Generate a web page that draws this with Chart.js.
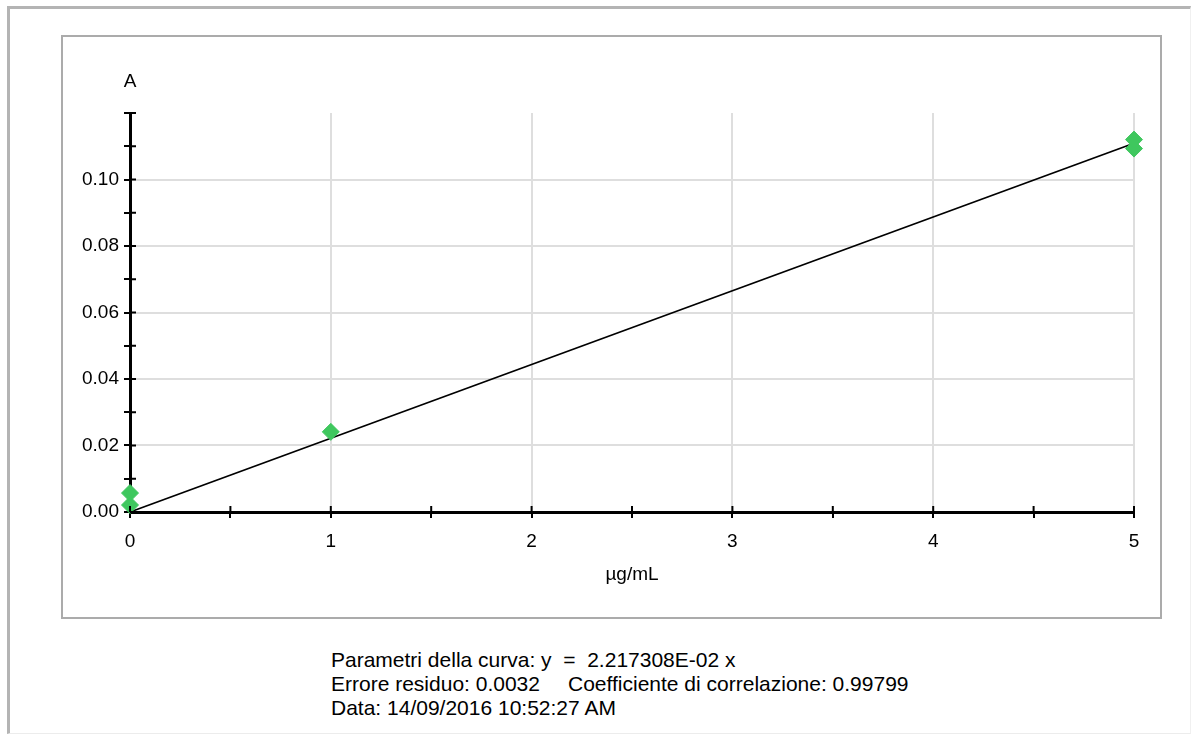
<!DOCTYPE html>
<html>
<head>
<meta charset="utf-8">
<script src="https://cdn.jsdelivr.net/npm/chart.js@4"></script>
<style>
  body { margin: 0; background: #fff; font-family: "Liberation Sans", Arial, sans-serif; }
  #outer { position: absolute; left: 7px; top: 6px; width: 1180px; height: 724px;
    border-top: 3px solid #b4b4b4; border-left: 3px solid #b4b4b4;
    border-right: 1px solid #f0f0f0; border-bottom: 1px solid #ececec; }
  #frame { position: absolute; left: 61px; top: 35px; width: 1097px; height: 580px;
    border: 2px solid #ababab; }
  #frame canvas { position: absolute; left: 0; top: 0; }
  #info { position: absolute; left: 331px; top: 648px; font-size: 21px; line-height: 24px; color: #000; }
  #info .gap { display: inline-block; width: 237px; }
</style>
</head>
<body>
<div id="outer"></div>
<div id="frame"><canvas id="myChart" width="1097" height="580"></canvas></div>
<div id="info">
  <div>Parametri della curva: y&nbsp; = &nbsp;2.217308E-02 x</div>
  <div><span class="gap">Errore residuo: 0.0032</span>Coefficiente di correlazione: 0.99799</div>
  <div>Data: 14/09/2016 10:52:27 AM</div>
</div>
<script>
// standard points (conc, absorbance)
var concStd = [0, 0, 1, 5, 5];
var absStd = [0.0021, 0.0057, 0.0241, 0.1093, 0.112];
// fitted line end points
var fitX = [0, 5];
var fitY = [0, 0.1109];
var xTickLabels = ["0", "1", "2", "3", "4", "5"];
var yTickLabels = ["0.00", "0.02", "0.04", "0.06", "0.08", "0.10"];
var xTitle = "µg/mL";
var yTitle = "A";

var tickFont = { family: "Liberation Sans", size: 19 };

function yLabel(v) {
	var s = v.toFixed(2);
	return yTickLabels.indexOf(s) >= 0 ? s : "";
}
function xLabel(v) {
	var s = String(v);
	return xTickLabels.indexOf(s) >= 0 ? s : "";
}

// tick marks that cross the axis + the "A" label on top of the y axis
const crossTicks = {
	id: "crossTicks",
	afterDraw: function (chart) {
		var ctx = chart.ctx;
		var xs = chart.scales.x, ys = chart.scales.y;
		var a = chart.chartArea;
		ctx.save();
		ctx.strokeStyle = "#000";
		ctx.lineWidth = 2;
		ctx.beginPath();
		ys.ticks.forEach(function (t) {
			var py = ys.getPixelForValue(t.value);
			ctx.moveTo(a.left, py);
			ctx.lineTo(a.left + 6, py);
		});
		xs.ticks.forEach(function (t) {
			var px = xs.getPixelForValue(t.value);
			ctx.moveTo(px, a.bottom);
			ctx.lineTo(px, a.bottom - 6);
		});
		ctx.stroke();
		ctx.fillStyle = "#000";
		ctx.font = "19px 'Liberation Sans'";
		ctx.textAlign = "center";
		ctx.textBaseline = "middle";
		ctx.fillText(yTitle, a.left, a.top - 31);
		ctx.restore();
	},
};

const ctx = document.getElementById("myChart").getContext("2d");
const myChart = new Chart(ctx, {
	type: "scatter",
	data: {
		datasets: [
			{
				label: "Standard",
				data: concStd.map(function (c, i) { return { x: c, y: absStd[i] }; }),
				backgroundColor: "#3fc75e",
				borderColor: "#3fc75e",
				borderWidth: 1,
				pointStyle: "rectRot",
				pointRadius: 8.5,
				clip: false,
				order: 0,
			},
			{
				type: "line",
				label: "Curva",
				data: fitX.map(function (c, i) { return { x: c, y: fitY[i] }; }),
				borderColor: "#000",
				borderWidth: 1.8,
				pointRadius: 0,
				fill: false,
				clip: false,
				order: 1,
			},
		],
	},
	options: {
		responsive: false,
		animation: false,
		layout: { padding: { left: 0, top: 76, right: 26, bottom: 0 } },
		plugins: { legend: { display: false }, tooltip: { enabled: false } },
		scales: {
			x: {
				type: "linear",
				min: 0,
				max: 5,
				afterFit: function (s) { s.height = 105; },
				ticks: { stepSize: 0.5, autoSkip: false, maxRotation: 0, padding: 12, color: "#000", font: tickFont, callback: xLabel },
				grid: {
					color: function (c) { return c.tick && xLabel(c.tick.value) !== "" && c.tick.value > 0 ? "#dedede" : "rgba(0,0,0,0)"; },
					lineWidth: 2,
					tickColor: "#000",
					tickWidth: 2,
					tickLength: 6,
				},
				border: { color: "#000", width: 3 },
				title: { display: true, text: xTitle, color: "#000", font: tickFont, padding: { top: 0, bottom: 31 } },
			},
			y: {
				type: "linear",
				min: 0,
				max: 0.12,
				afterFit: function (s) { s.width = 67; },
				ticks: { stepSize: 0.01, autoSkip: false, padding: 5, color: "#000", font: tickFont, callback: yLabel },
				grid: {
					color: function (c) { return c.tick && yLabel(c.tick.value) !== "" && c.tick.value > 0.001 ? "#dedede" : "rgba(0,0,0,0)"; },
					lineWidth: 2,
					tickColor: "#000",
					tickWidth: 2,
					tickLength: 6,
				},
				border: { color: "#000", width: 3 },
			},
		},
	},
	plugins: [crossTicks],
});
</script>
</body>
</html>
